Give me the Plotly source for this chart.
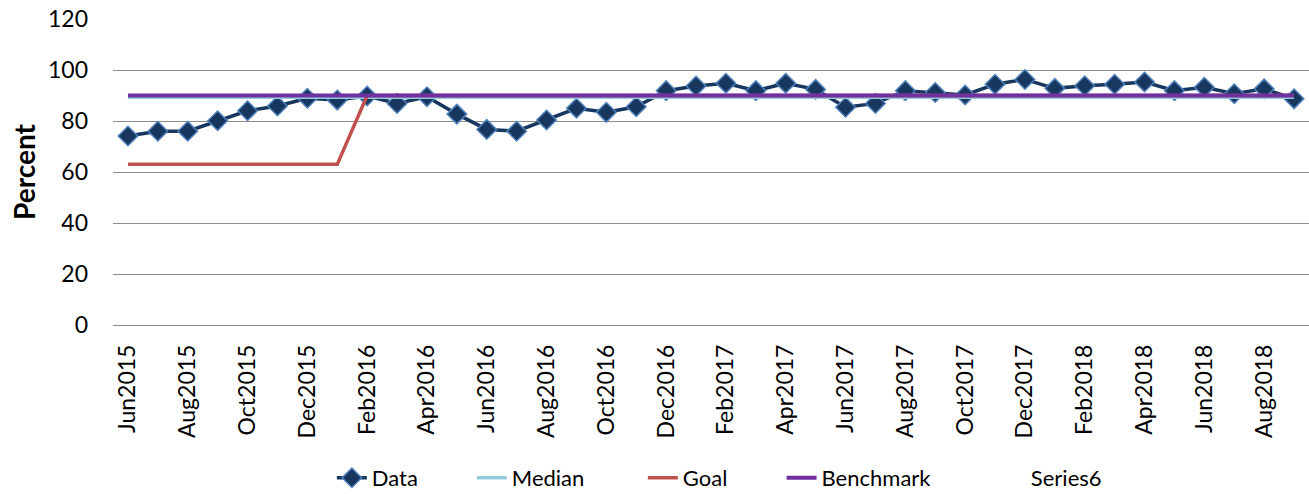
import plotly.graph_objects as go

months = ["Jun2015", "Jul2015", "Aug2015", "Sep2015", "Oct2015", "Nov2015", "Dec2015",
          "Jan2016", "Feb2016", "Mar2016", "Apr2016", "May2016", "Jun2016", "Jul2016",
          "Aug2016", "Sep2016", "Oct2016", "Nov2016", "Dec2016", "Jan2017", "Feb2017",
          "Mar2017", "Apr2017", "May2017", "Jun2017", "Jul2017", "Aug2017", "Sep2017",
          "Oct2017", "Nov2017", "Dec2017", "Jan2018", "Feb2018", "Mar2018", "Apr2018",
          "May2018", "Jun2018", "Jul2018", "Aug2018", "Sep2018"]

data = [74.1, 76.0, 76.0, 80.1, 84.0, 85.9, 88.9, 88.2, 89.8, 86.9, 89.5, 82.7, 76.7, 76.0,
        80.4, 85.0, 83.4, 85.6, 91.9, 93.7, 94.8, 91.9, 94.8, 92.4, 85.4, 86.9, 91.9, 91.2,
        90.2, 94.4, 96.3, 92.8, 93.8, 94.4, 95.3, 91.9, 93.2, 90.7, 92.6, 88.7]

median = [89.3] * 40
goal = [63.0] * 8 + [90.0] * 32
benchmark = [90.0] * 40
series6 = [None] * 40

tick_labels = months[::2]

FONT = "Lato, 'Open Sans', sans-serif"

# legend entry positions (paper x) for each series
legend_x = [0.183, 0.300, 0.443, 0.559, 0.734]

fig = go.Figure()
fig.add_trace(go.Scatter(
    x=months, y=data, name="Data", mode="lines+markers", legend="legend",
    line=dict(color="#17375E", width=3.5),
    marker=dict(symbol="diamond", size=15, color="#17375E",
                line=dict(color="#4F81BD", width=1.5)),
))
fig.add_trace(go.Scatter(
    x=months, y=median, name="Median", mode="lines", legend="legend2",
    line=dict(color="#93CDDD", width=3.5),
))
fig.add_trace(go.Scatter(
    x=months, y=goal, name="Goal", mode="lines", legend="legend3",
    line=dict(color="#C0504D", width=3.5),
))
fig.add_trace(go.Scatter(
    x=months, y=benchmark, name="Benchmark", mode="lines", legend="legend4",
    line=dict(color="#7030A0", width=4),
))
fig.add_trace(go.Scatter(
    x=months, y=series6, name="Series6", mode="lines", legend="legend5",
    line=dict(color="rgba(0,0,0,0)", width=3.5),
))

leg_common = dict(orientation="h", xanchor="left", y=-0.5, yanchor="middle",
                  font=dict(size=22), bgcolor="rgba(0,0,0,0)")

fig.update_layout(
    width=1309, height=494,
    margin=dict(l=113, r=0, t=19, b=169, autoexpand=False),
    paper_bgcolor="white", plot_bgcolor="white",
    font=dict(family=FONT, size=22, color="#000000"),
    showlegend=True,
    legend=dict(x=legend_x[0], **leg_common),
    legend2=dict(x=legend_x[1], **leg_common),
    legend3=dict(x=legend_x[2], **leg_common),
    legend4=dict(x=legend_x[3], **leg_common),
    legend5=dict(x=legend_x[4], **leg_common),
    xaxis=dict(
        type="category", tickmode="array", tickvals=tick_labels, ticktext=tick_labels,
        tickangle=-90, showgrid=False, showline=False, zeroline=False,
        ticks="", ticklabelstandoff=14, range=[-0.5, len(months) - 0.5],
        tickfont=dict(size=23),
    ),
    yaxis=dict(
        range=[0, 120], dtick=20, showgrid=True, gridcolor="#8C8C8C", gridwidth=1.3,
        zeroline=True, zerolinecolor="#8C8C8C", zerolinewidth=1.3, showline=False,
        ticks="", ticklabelstandoff=24, tickfont=dict(size=23),
        title=dict(text="<b>Percent</b>", font=dict(size=28), standoff=4),
    ),
)

fig.write_html("out.html", config={"displayModeBar": False},
               post_script="document.body.style.margin='0';document.body.style.overflow='hidden';")
